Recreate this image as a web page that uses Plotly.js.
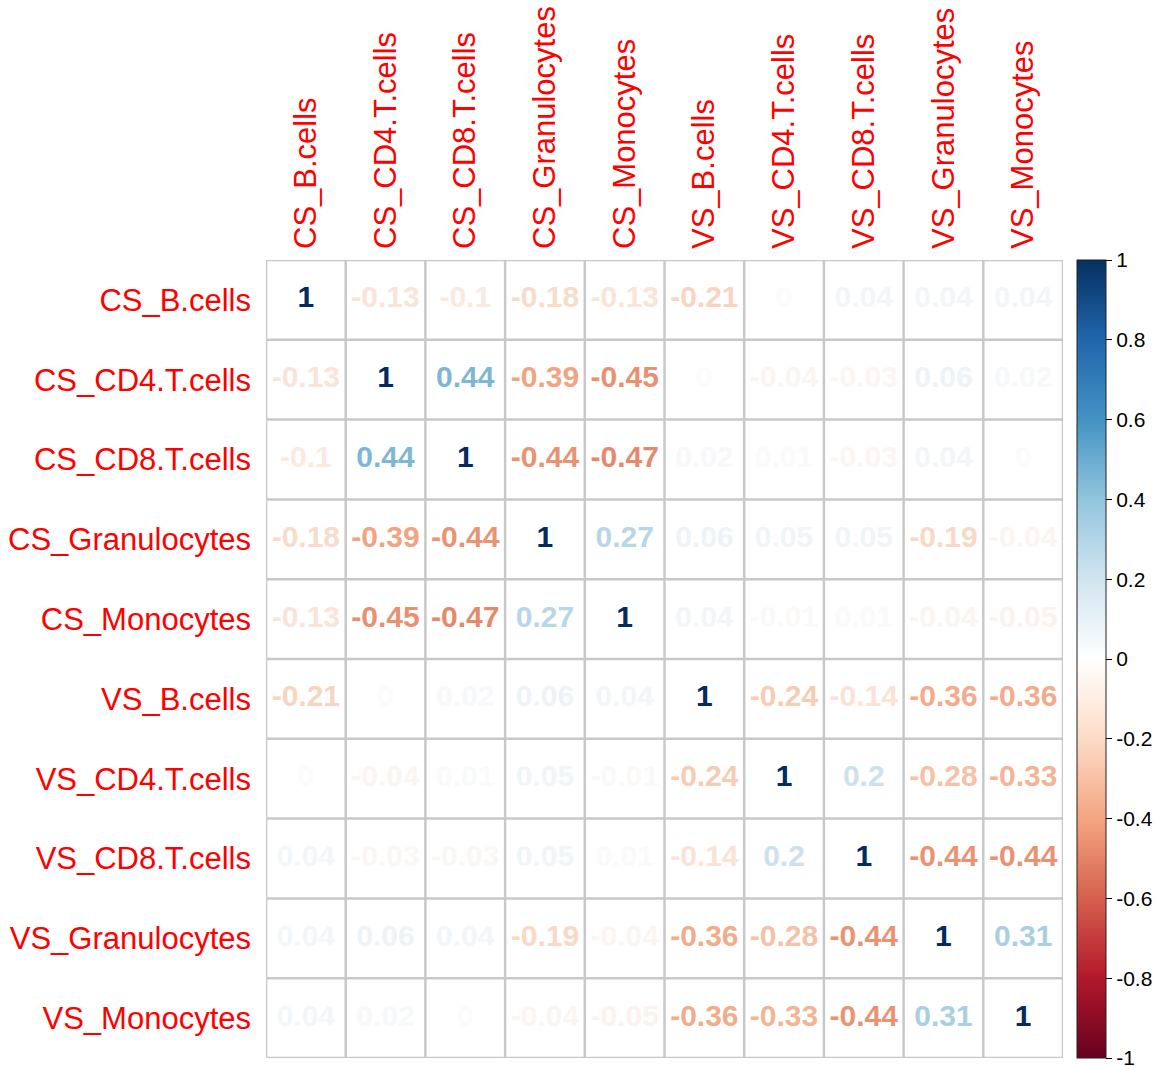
<!DOCTYPE html>
<html>
<head>
<meta charset="utf-8">
<script src="https://cdn.plot.ly/plotly-3.0.1.min.js"></script>
<style>
  html, body { margin: 0; padding: 0; background: #ffffff; }
  #chart { width: 1172px; height: 1066px; }
</style>
</head>
<body>
<div id="chart"></div>
<script>
// Cell types, in matrix order
const cellTypes = [
  "CS_B.cells", "CS_CD4.T.cells", "CS_CD8.T.cells", "CS_Granulocytes", "CS_Monocytes",
  "VS_B.cells", "VS_CD4.T.cells", "VS_CD8.T.cells", "VS_Granulocytes", "VS_Monocytes"
];

// Correlation rows
const rowCS_B    = [1, -0.13, -0.1, -0.18, -0.13, -0.21, 0, 0.04, 0.04, 0.04];
const rowCS_CD4  = [-0.13, 1, 0.44, -0.39, -0.45, 0, -0.04, -0.03, 0.06, 0.02];
const rowCS_CD8  = [-0.1, 0.44, 1, -0.44, -0.47, 0.02, 0.01, -0.03, 0.04, 0];
const rowCS_Gran = [-0.18, -0.39, -0.44, 1, 0.27, 0.06, 0.05, 0.05, -0.19, -0.04];
const rowCS_Mono = [-0.13, -0.45, -0.47, 0.27, 1, 0.04, -0.01, 0.01, -0.04, -0.05];
const rowVS_B    = [-0.21, 0, 0.02, 0.06, 0.04, 1, -0.24, -0.14, -0.36, -0.36];
const rowVS_CD4  = [0, -0.04, 0.01, 0.05, -0.01, -0.24, 1, 0.2, -0.28, -0.33];
const rowVS_CD8  = [0.04, -0.03, -0.03, 0.05, 0.01, -0.14, 0.2, 1, -0.44, -0.44];
const rowVS_Gran = [0.04, 0.06, 0.04, -0.19, -0.04, -0.36, -0.28, -0.44, 1, 0.31];
const rowVS_Mono = [0.04, 0.02, 0, -0.04, -0.05, -0.36, -0.33, -0.44, 0.31, 1];

const corrRows = [rowCS_B, rowCS_CD4, rowCS_CD8, rowCS_Gran, rowCS_Mono,
                  rowVS_B, rowVS_CD4, rowVS_CD8, rowVS_Gran, rowVS_Mono];

// Colour bar tick values
const barTicks = [-1, -0.8, -0.6, -0.4, -0.2, 0, 0.2, 0.4, 0.6, 0.8, 1];

// Diverging red-white-blue palette from -1 to 1
const paletteHex = ["#67001F", "#B2182B", "#D6604D", "#F4A582", "#FDDBC7", "#FFFFFF",
                    "#D1E5F0", "#92C5DE", "#4393C3", "#2166AC", "#053061"];
const colorscale = paletteHex.map((c, i) => [i / (paletteHex.length - 1), c]);

function hexToRgb(h) {
  return [parseInt(h.slice(1, 3), 16), parseInt(h.slice(3, 5), 16), parseInt(h.slice(5, 7), 16)];
}
function valueColor(v) {
  const t = (Math.max(-1, Math.min(1, v)) + 1) / 2 * (paletteHex.length - 1);
  const i = Math.min(Math.floor(t), paletteHex.length - 2);
  const f = t - i;
  const a = hexToRgb(paletteHex[i]), b = hexToRgb(paletteHex[i + 1]);
  // slight darkening keeps near-zero values faintly visible on white cells
  const c = a.map((x, k) => Math.max(0, Math.round(x + (b[k] - x) * f) - 4));
  return `rgb(${c[0]},${c[1]},${c[2]})`;
}

const xs = [], ys = [], vals = [], labels = [], colors = [];
corrRows.forEach((row, r) => {
  row.forEach((v, c) => {
    xs.push(c);
    ys.push(r);
    vals.push(v);
    labels.push(String(v));
    colors.push(valueColor(v));
  });
});

const n = cellTypes.length;

// Numbers in each cell
const textTrace = {
  type: "scatter",
  mode: "text",
  x: xs,
  y: ys,
  text: labels,
  textposition: "middle center",
  textfont: { family: "Liberation Sans, Arial, sans-serif", size: 30, color: colors, weight: "bold" },
  hoverinfo: "skip",
  showlegend: false
};

// Invisible markers carrying the colour bar
const scaleTrace = {
  type: "scatter",
  mode: "markers",
  x: xs,
  y: ys,
  marker: {
    size: 1,
    opacity: 0,
    color: vals,
    colorscale: colorscale,
    cmin: -1,
    cmax: 1,
    showscale: true,
    colorbar: {
      x: 1.0176,
      xanchor: "left",
      y: 0.5,
      yanchor: "middle",
      len: 1,
      lenmode: "fraction",
      thickness: 29,
      thicknessmode: "pixels",
      xpad: 0,
      ypad: 0,
      outlinewidth: 1,
      outlinecolor: "#222222",
      tickmode: "array",
      tickvals: barTicks,
      ticktext: barTicks.map(String),
      ticks: "outside",
      ticklen: 6,
      tickcolor: "#000000",
      ticklabeloverflow: "allow",
      tickfont: { family: "Liberation Sans, Arial, sans-serif", size: 21, color: "#000000" }
    }
  },
  hoverinfo: "skip",
  showlegend: false
};

// Cell borders
const shapes = [];
for (let k = 0; k <= n; k++) {
  shapes.push({ type: "line", xref: "x", yref: "y", x0: k - 0.5, x1: k - 0.5, y0: -0.5, y1: n - 0.5,
                line: { color: "#c8c8c8", width: 2.5 } });
  shapes.push({ type: "line", xref: "x", yref: "y", x0: -0.5, x1: n - 0.5, y0: k - 0.5, y1: k - 0.5,
                line: { color: "#c8c8c8", width: 2.5 } });
}

const idx = cellTypes.map((_, i) => i);
const labelFont = { family: "Liberation Sans, Arial, sans-serif", size: 31, color: "#ff0000" };

const layout = {
  width: 1172,
  height: 1066,
  margin: { l: 266, r: 109, t: 260, b: 8 },
  paper_bgcolor: "#ffffff",
  plot_bgcolor: "#ffffff",
  showlegend: false,
  xaxis: {
    side: "top",
    range: [-0.5, n - 0.5],
    tickmode: "array",
    tickvals: idx,
    ticktext: cellTypes,
    tickangle: -90,
    ticks: "",
    ticklabelstandoff: 10,
    tickfont: labelFont,
    showgrid: false,
    zeroline: false,
    showline: false,
    fixedrange: true
  },
  yaxis: {
    range: [n - 0.5, -0.5],
    tickmode: "array",
    tickvals: idx,
    ticktext: cellTypes,
    ticks: "",
    ticklabelstandoff: 14,
    tickfont: labelFont,
    showgrid: false,
    zeroline: false,
    showline: false,
    fixedrange: true
  },
  shapes: shapes
};

Plotly.newPlot("chart", [scaleTrace, textTrace], layout, { displayModeBar: false, staticPlot: true });
</script>
</body>
</html>
